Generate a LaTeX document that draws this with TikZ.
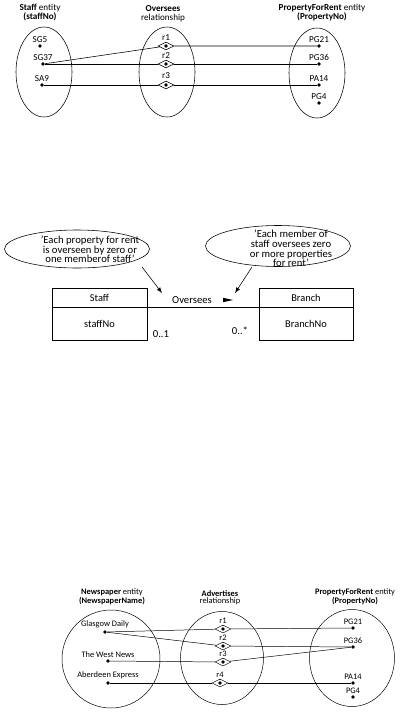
\documentclass[tikz,border=0pt]{standalone}
\usepackage{fontspec}
\setmainfont{Carlito}
\usetikzlibrary{arrows,positioning,shapes.geometric}

\begin{document}
\begin{tikzpicture}[x=0.25mm,y=-0.25mm,line width=0.4pt,>=latex,color=black,
  every node/.style={font=\fontsize{6.5}{6.6}\selectfont},
  head/.style={align=center,inner sep=0pt},
  set/.style={draw,ellipse,inner sep=0pt},
  lbl/.style={inner sep=1pt},
  pt/.style={circle,fill,inner sep=0pt,minimum size=0.9mm,label={[lbl]above:#1}},
  rel/.style={draw,diamond,aspect=2,inner sep=0pt,minimum width=4mm,minimum height=2mm,label={[lbl]above:#1}},
  dot/.style={circle,fill,inner sep=0pt,minimum size=0.9mm},
  note/.style={align=center,inner sep=0pt,font=\fontsize{7.6}{6.8}\selectfont},
  box/.style={draw,inner sep=0pt,font=\fontsize{7.4}{7}\selectfont}]
  \useasboundingbox (0,0) rectangle (404,712);

  % Staff -- Oversees -- PropertyForRent
  \node[head] (hStaff) at (40,12.5) {\textbf{Staff} entity\\\textbf{(staffNo)}};
  \node[head] (hOver) at (163,14) {\textbf{Oversees}\\relationship};
  \node[head] (hProp) at (322,12.5) {\textbf{PropertyForRent} entity\\\textbf{(PropertyNo)}};
  \node[set,minimum width=14mm,minimum height=22.5mm] (sStaff) at (44,72) {};
  \node[set,minimum width=14mm,minimum height=22.5mm] (sOver) at (167,72) {};
  \node[set,minimum width=14mm,minimum height=22.5mm] (sProp) at (317,73) {};
  \node[pt=SG5] (sg5) at (40,46) {};
  \node[pt=SG37] (sg37) at (43,64) {};
  \node[pt=SA9] (sa9) at (42,85) {};
  \node[rel=r1] (r1) at (166,46) {};
  \node[dot] (r1d) at (166,46) {};
  \node[rel=r2] (r2) at (166,64) {};
  \node[dot] (r2d) at (166,64) {};
  \node[rel=r3] (r3) at (166,85) {};
  \node[dot] (r3d) at (166,85) {};
  \node[pt=PG21] (pg21) at (319,46) {};
  \node[pt=PG36] (pg36) at (319,64) {};
  \node[pt=PA14] (pa14) at (319,85) {};
  \node[pt=PG4] (pg4) at (319,103) {};
  \draw (sg37) -- (r1) -- (pg21);
  \draw (sg37) -- (r2) -- (pg36);
  \draw (sa9) -- (r3) -- (pa14);

  % Staff Oversees Branch
  \node[set,minimum width=36.25mm,minimum height=9.5mm] (cLeft) at (77,249) {};
  \node[note] (tLeft) at (90,249.5) {'Each property for rent\\is overseen by zero or\\one memberof staff'};
  \node[set,minimum width=36.25mm,minimum height=10.25mm] (cRight) at (278,246) {};
  \node[note] (tRight) at (291,248.5) {'Each member of\\staff oversees zero\\or more properties\\for rent'};
  \node[box,minimum width=23.75mm,minimum height=4.75mm] (staffH) at (99.5,297.5) {Staff};
  \node[box,minimum width=23.75mm,minimum height=8.25mm,below=0pt of staffH] (staffB) {staffNo};
  \node[box,minimum width=23.5mm,minimum height=4.75mm] (branchH) at (306,297.5) {Branch};
  \node[box,minimum width=23.5mm,minimum height=8.25mm,below=0pt of branchH] (branchB) {BranchNo};
  \draw (staffH.south east) -- (branchH.south west);
  \node[note] (lOver) at (192,300) {Oversees};
  \coordinate (dirTip) at (228,300);
  \fill (dirTip) ++(-5,-2.2) -- ++(10,2.2) -- ++(-10,2.2) -- cycle;
  \coordinate (aL0) at (142,267);
  \coordinate (aL1) at (162,293);
  \coordinate (aR0) at (252,267);
  \coordinate (aR1) at (235,293);
  \draw[->] (aL0) -- (aL1);
  \draw[->] (aR0) -- (aR1);
  \node[note] (m1) at (161,334) {0..1};
  \node[note] (m2) at (240,331) {0..*};

  % Newspaper -- Advertises -- PropertyForRent
  \begin{scope}[every node/.append style={font=\fontsize{6}{5.2}\selectfont},line width=0.35pt]
  \node[head] (hNews) at (112,597) {\textbf{Newspaper} entity\\\textbf{(NewspaperName)}};
  \node[head] (hAdv) at (220,597.5) {\textbf{Advertises}\\relationship};
  \node[head] (hProp2) at (355,597) {\textbf{PropertyForRent} entity\\\textbf{(PropertyNo)}};
  \node[set,minimum width=24.5mm,minimum height=24.5mm] (sNews) at (111,659) {};
  \node[set,minimum width=20.75mm,minimum height=23.25mm] (sAdv) at (222,658) {};
  \node[set,minimum width=21.25mm,minimum height=24.25mm] (sProp2) at (352,658) {};
  \node[pt=Glasgow Daily] (gd) at (105,632) {};
  \node[pt=The West News] (wn) at (108,661) {};
  \node[pt=Aberdeen Express] (ae) at (108,683) {};
  \node[rel=r1] (a1) at (223,629) {};
  \node[dot] (a1d) at (223,629) {};
  \node[rel=r2] (a2) at (223,646) {};
  \node[dot] (a2d) at (223,646) {};
  \node[rel=r3] (a3) at (223,662) {};
  \node[dot] (a3d) at (223,662) {};
  \node[rel=r4] (a4) at (220,683) {};
  \node[dot] (a4d) at (220,683) {};
  \node[pt=PG21] (pg21b) at (353,628) {};
  \node[pt=PG36] (pg36b) at (353,647) {};
  \node[pt=PA14] (pa14b) at (353,683) {};
  \node[pt=PG4] (pg4b) at (353,697) {};
  \draw (gd) -- (a1) -- (pg21b);
  \draw (gd) -- (a2) -- (pg36b);
  \draw (wn) -- (a3) -- (pg36b);
  \draw (ae) -- (a4) -- (pa14b);
  \end{scope}
\end{tikzpicture}
\end{document}
